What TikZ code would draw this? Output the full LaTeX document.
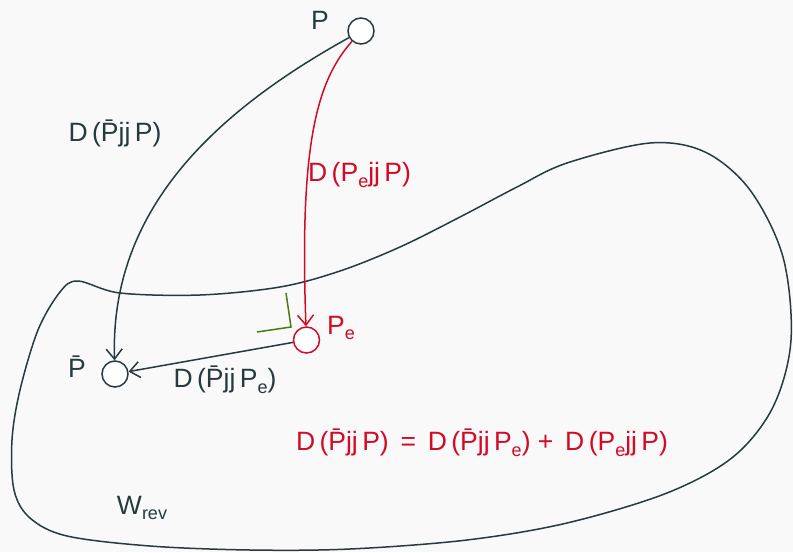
\documentclass[tikz,border=0pt]{standalone}
\usepackage{fontspec}
\setmainfont{Liberation Sans}
\usetikzlibrary{arrows.meta}
\definecolor{ink}{HTML}{263A3F}
\definecolor{rd}{HTML}{D20A26}
\definecolor{grn}{HTML}{4A7A12}
\definecolor{bg}{HTML}{F9F9F9}
\tikzset{
  pt/.style={circle, draw, fill=white, minimum size=26pt, inner sep=0pt, line width=1.5pt},
  lbl/.style={font=\fontsize{26.5}{30}\selectfont, inner sep=0pt},
  con/.style={line width=1.5pt, -{Straight Barb[length=10pt,width=16pt,line width=1.5pt]}},
}
\newcommand{\Pb}{\={P}}
\newcommand{\sbs}[1]{\raisebox{-0.4ex}{\fontsize{18}{20}\selectfont #1}}
\begin{document}
\begin{tikzpicture}[x=1pt,y=-1pt]
\fill[bg] (0,0) rectangle (793,552);
\useasboundingbox (0,0) rectangle (793,552);
% region boundary
\draw[ink, line width=1.5pt] plot[smooth cycle, tension=0.55] coordinates {
 (78,281) (120,293) (200,295) (280,287) (340,271) (400,247) (460,217) (517,187)
 (567,163) (650,143) (705,152) (750,190) (783,257) (791,340) (773,407) (733,457)
 (667,493) (567,523) (467,540) (350,549) (250,550) (150,546) (67,536) (30,518)
 (14,490) (12,440) (20,390) (38,330) (60,292)};
% nodes
\node[pt, draw=ink] (P) at (361,31) {};
\node[pt, draw=rd] (Pe) at (306.5,340) {};
\node[pt, draw=ink] (Pb) at (115,374) {};
% green orthogonality mark
\coordinate (g1) at (286,293);
\coordinate (g2) at (291,327);
\coordinate (g3) at (257,332);
\draw[grn, line width=1.5pt] (g1) -- (g2) -- (g3);
% connectors
\draw[con, ink] (P) .. controls (200,120) and (110,220) .. (Pb);
\draw[con, rd] (P) .. controls (318,80) and (299,140) .. (Pe);
\draw[con, ink] (Pe) -- (Pb);
% labels
\node[lbl, ink] (lP) at (320,20) {P};
\node[lbl, rd, anchor=west] (lPe) at (327,328) {P\sbs{e}};
\node[lbl, ink] (lPb) at (77,367) {\Pb};
\node[lbl, ink] (l1) at (115,133) {D\,(\Pb jj\,P)};
\node[lbl, rd, anchor=west] (l2) at (308,175) {D\,(P\sbs{e}jj\,P)};
\node[lbl, ink] (l3) at (225,380) {D\,(\Pb jj\,P\sbs{e})};
\node[lbl, rd] (eq) at (482,443) {D\,(\Pb jj\,P)\, = \,D\,(\Pb jj\,P\sbs{e}) + \,D\,(P\sbs{e}jj\,P)};
\node[lbl, ink] (W) at (142,508) {W\sbs{rev}};
\end{tikzpicture}
\end{document}
